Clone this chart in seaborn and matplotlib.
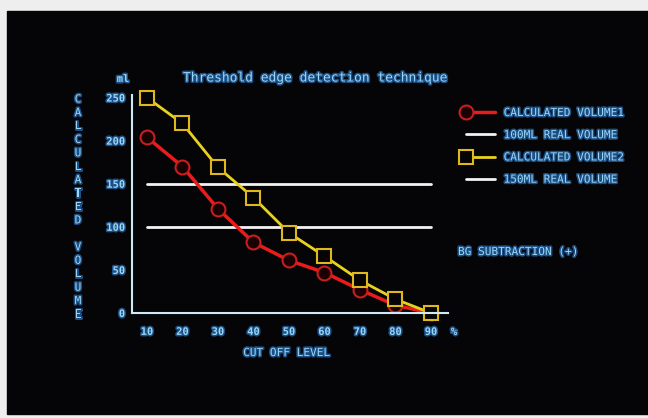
"""
Threshold edge detection: calculated volume vs. cut off level (CRT screen look).
"""
import numpy as np
import pandas as pd
import matplotlib
matplotlib.use("Agg")
import matplotlib.pyplot as plt
import matplotlib.patheffects as pe
from matplotlib.patches import Rectangle
from matplotlib.legend_handler import HandlerLine2D
import seaborn as sns

# data
cut_off = [10, 20, 30, 40, 50, 60, 70, 80, 90]
volume1 = [204, 170, 121, 82, 61, 47, 27, 9, 0]
volume2 = [250, 220, 169, 134, 93, 66, 38, 16, 0]
real_x = [10, 90]
real_100 = [100, 100]
real_150 = [150, 150]
y_ticks = [0, 50, 100, 150, 200, 250]
legend_labels = ["CALCULATED VOLUME1", "100ML REAL VOLUME",
                 "CALCULATED VOLUME2", "150ML REAL VOLUME"]

TXT = "#9ad6f4"
GLOW = [pe.withStroke(linewidth=2.2, foreground="#1b4f86")]
MONO = "DejaVu Sans Mono"


class MarkerLeft(HandlerLine2D):
    """Legend handle with the marker at the left end of the sample line."""

    def create_artists(self, *args, **kwargs):
        artists = super().create_artists(*args, **kwargs)
        for a in artists:
            a.set_markevery([0])
        return artists


sns.set_style("dark")
plt.rcParams["font.family"] = [MONO]

fig = plt.figure(figsize=(6.48, 4.18), dpi=100)
fig.patch.set_facecolor("#eeeeee")
# the black screen
fig.patches.append(Rectangle((7 / 648, 4 / 418), 641 / 648, 403 / 418,
                             transform=fig.transFigure, color="#050507", zorder=-10))

ax = fig.add_axes([132 / 648, 105 / 418, 316 / 648, 218 / 418])
ax.set_facecolor("none")

df = pd.DataFrame({"cut": cut_off, "v1": volume1, "v2": volume2})
real = pd.DataFrame({"x": real_x, "r100": real_100, "r150": real_150})

sns.lineplot(data=real, x="x", y="r150", ax=ax, color="#f2f2f2", lw=2)
sns.lineplot(data=real, x="x", y="r100", ax=ax, color="#f2f2f2", lw=2)
sns.lineplot(data=df, x="cut", y="v1", ax=ax, color="#e81c1c", lw=2.5,
             marker="o", ms=10, mfc="#1a0000", mec="#c81e1e", mew=1.5, clip_on=False)
sns.lineplot(data=df, x="cut", y="v2", ax=ax, color="#e8d21e", lw=2,
             marker="s", ms=10, mfc="#050505", mec="#e0b81e", mew=1.5, clip_on=False)

ax.set_xlim(5.8, 94.8)
ax.set_ylim(0, 253)
ax.set_xticks(cut_off)
ax.set_yticks(y_ticks)
ax.set_xlabel("")
ax.set_ylabel("")
ax.grid(False)
for side in ["top", "right"]:
    ax.spines[side].set_visible(False)
for side in ["left", "bottom"]:
    ax.spines[side].set_visible(True)
    ax.spines[side].set_color("#cfe9f7")
    ax.spines[side].set_linewidth(1.5)
ax.tick_params(axis="both", direction="in", length=3, width=1.2, color="#cfe9f7",
               labelcolor=TXT, labelsize=7.5)
ax.tick_params(axis="x", pad=10)
ax.tick_params(axis="y", pad=5)
for lab in ax.get_xticklabels() + ax.get_yticklabels():
    lab.set_fontweight("bold")
    lab.set_path_effects(GLOW)


def ftext(x, y, s, **kw):
    t = fig.text(x / 648, 1 - y / 418, s, color=TXT, family=MONO,
                 va="center", **kw)
    t.set_path_effects(GLOW)
    return t


ftext(183, 78, "Threshold edge detection technique", fontsize=9.3, ha="left")
ftext(123, 79, "ml", fontsize=7.5, ha="center", weight="bold")
ftext(454, 332, "%", fontsize=7.5, ha="center", weight="bold")
ftext(287, 353, "CUT OFF LEVEL", fontsize=8, ha="center")
ftext(78, 207, "\n".join("CALCULATED VOLUME"), fontsize=8, ha="center",
      linespacing=1.43)
ftext(458, 252, "BG SUBTRACTION (+)", fontsize=8, ha="left")

# legend
h_red = plt.Line2D([], [], color="#e81c1c", lw=2.5, marker="o", ms=10,
                   mfc="#1a0000", mec="#c81e1e", mew=1.5)
h_white = plt.Line2D([], [], color="#f2f2f2", lw=2)
h_yel = plt.Line2D([], [], color="#e8d21e", lw=2, marker="s", ms=10,
                   mfc="#050505", mec="#e0b81e", mew=1.5)
leg = fig.legend([h_red, h_white, h_yel, h_white], legend_labels,
                 loc="upper left", bbox_to_anchor=(463 / 648, 1 - 108 / 418),
                 frameon=False, numpoints=2, handlelength=3.2, handletextpad=0.45,
                 labelspacing=1.1, borderpad=0, borderaxespad=0,
                 handler_map={plt.Line2D: MarkerLeft()},
                 prop={"family": MONO, "size": 8})
for t in leg.get_texts():
    t.set_color(TXT)
    t.set_path_effects(GLOW)

fig.savefig("out.png", dpi=100, facecolor=fig.get_facecolor())
